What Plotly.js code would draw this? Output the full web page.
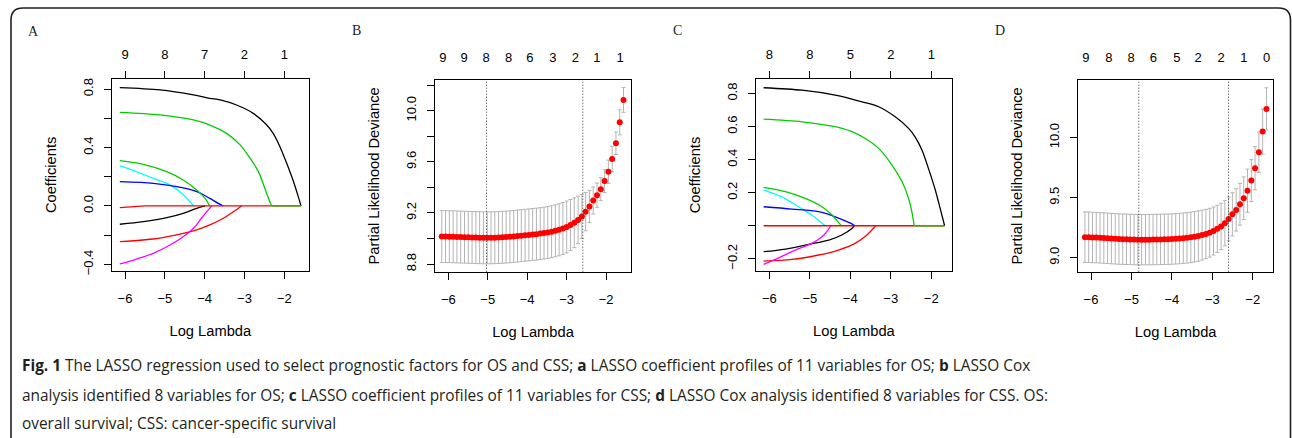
<!DOCTYPE html>
<html><head><meta charset="utf-8">
<script src="https://cdn.plot.ly/plotly-3.0.1.min.js"></script>
<style>html,body{margin:0;padding:0;background:#fff;}#chart{width:1292px;height:438px;}</style>
</head><body><div id="chart"></div>
<script>
// ---------------- DATA ----------------
// Panel A: LASSO coefficient profiles (OS)
const A_black1_x = [-6.13,-5.12,-4.28,-3.87,-3.61,-3.20,-2.78,-2.44,-2.28,-2.11,-1.94,-1.77,-1.65,-1.58];
const A_black1_y = [0.810,0.794,0.760,0.737,0.726,0.691,0.634,0.554,0.497,0.406,0.292,0.167,0.064,0];
const A_green1_x = [-6.13,-5.12,-4.28,-3.87,-3.45,-3.11,-2.86,-2.65,-2.49,-2.38,-2.32];
const A_green1_y = [0.641,0.623,0.589,0.554,0.497,0.418,0.326,0.235,0.121,0.041,0];
const A_green1_tail_x = [-2.32,-1.58];
const A_green1_tail_y = [0,0];
const A_green2_x = [-6.13,-5.54,-4.95,-4.54,-4.20,-3.99,-3.87];
const A_green2_y = [0.310,0.285,0.235,0.178,0.110,0.052,0];
const A_cyan_x = [-6.13,-5.71,-5.29,-4.87,-4.58,-4.37,-4.28];
const A_cyan_y = [0.274,0.235,0.189,0.144,0.087,0.030,0];
const A_blue_x = [-6.13,-5.29,-4.70,-4.20,-3.87,-3.66,-3.53];
const A_blue_y = [0.167,0.155,0.132,0.098,0.052,0.018,0];
const A_red0_x = [-6.13,-5.80,-5.50,-1.58];
const A_red0_y = [-0.011,-0.004,0,0];
const A_black2_x = [-6.13,-5.54,-4.95,-4.54,-4.20,-3.99];
const A_black2_y = [-0.125,-0.107,-0.080,-0.050,-0.016,0];
const A_red2_x = [-6.13,-5.29,-4.70,-4.28,-3.87,-3.53,-3.28,-3.07];
const A_red2_y = [-0.244,-0.226,-0.198,-0.171,-0.130,-0.084,-0.039,0];
const A_magenta_x = [-6.13,-5.71,-5.29,-4.87,-4.54,-4.28,-4.08,-3.91,-3.82];
const A_magenta_y = [-0.397,-0.363,-0.324,-0.267,-0.210,-0.153,-0.084,-0.027,0];
const A_top_at = [-6,-5,-4,-3,-2];
const A_top_labels = ['9','8','7','2','1'];

// Panel C: LASSO coefficient profiles (CSS)
const C_black1_x = [-6.14,-5.19,-4.37,-3.71,-3.30,-2.89,-2.56,-2.40,-2.23,-2.07,-1.90,-1.78,-1.67];
const C_black1_y = [0.835,0.820,0.790,0.750,0.720,0.659,0.589,0.538,0.458,0.347,0.216,0.105,0];
const C_green1_x = [-6.14,-5.19,-4.37,-3.96,-3.63,-3.30,-2.97,-2.72,-2.56,-2.48,-2.42];
const C_green1_y = [0.645,0.629,0.599,0.569,0.528,0.468,0.367,0.266,0.165,0.085,0];
const C_green1_tail_x = [-2.42,-1.67];
const C_green1_tail_y = [0,0];
const C_green2_x = [-6.14,-5.60,-5.11,-4.70,-4.45,-4.27,-4.22];
const C_green2_y = [0.232,0.206,0.165,0.115,0.065,0.014,0];
const C_cyan_x = [-6.14,-5.69,-5.28,-4.95,-4.74,-4.62];
const C_cyan_y = [0.216,0.175,0.115,0.065,0.024,0];
const C_blue_x = [-6.14,-5.44,-4.78,-4.37,-4.04,-3.88];
const C_blue_y = [0.115,0.101,0.085,0.054,0.020,0];
const C_red0_x = [-6.14,-1.67];
const C_red0_y = [0,0];
const C_black2_x = [-6.14,-5.60,-5.03,-4.53,-4.21,-3.96,-3.90];
const C_black2_y = [-0.157,-0.141,-0.113,-0.087,-0.056,-0.016,0];
const C_red2_x = [-6.14,-5.44,-4.78,-4.29,-3.88,-3.59,-3.37];
const C_red2_y = [-0.214,-0.204,-0.177,-0.147,-0.107,-0.056,0];
const C_magenta_x = [-6.14,-5.77,-5.36,-4.95,-4.70,-4.55,-4.48];
const C_magenta_y = [-0.234,-0.194,-0.147,-0.107,-0.067,-0.026,0];
const C_top_at = [-6,-5,-4,-3,-2];
const C_top_labels = ['8','8','5','2','1'];

// Panel B: cross-validated partial likelihood deviance (OS)
const B_logLambda = [-6.165,-6.069,-5.973,-5.877,-5.781,-5.685,-5.589,-5.493,-5.397,-5.301,-5.205,-5.109,-5.013,-4.917,-4.821,-4.725,-4.629,-4.533,-4.437,-4.341,-4.245,-4.149,-4.053,-3.957,-3.861,-3.765,-3.669,-3.573,-3.477,-3.381,-3.285,-3.189,-3.093,-2.997,-2.901,-2.805,-2.709,-2.613,-2.517,-2.421,-2.325,-2.229,-2.133,-2.037,-1.941,-1.845,-1.749,-1.653,-1.557];
const B_deviance = [9.015,9.015,9.014,9.013,9.012,9.011,9.010,9.009,9.008,9.007,9.006,9.005,9.005,9.005,9.006,9.007,9.009,9.011,9.013,9.016,9.019,9.022,9.025,9.028,9.031,9.034,9.038,9.042,9.047,9.053,9.060,9.068,9.078,9.090,9.105,9.123,9.145,9.172,9.210,9.250,9.297,9.339,9.386,9.449,9.522,9.621,9.745,9.909,10.084];
const B_sd = [0.203,0.203,0.203,0.203,0.203,0.203,0.203,0.203,0.203,0.203,0.203,0.203,0.203,0.203,0.203,0.203,0.203,0.203,0.203,0.203,0.203,0.203,0.203,0.203,0.203,0.203,0.203,0.203,0.203,0.203,0.203,0.203,0.203,0.203,0.200,0.195,0.186,0.172,0.150,0.126,0.105,0.095,0.090,0.090,0.091,0.100,0.088,0.098,0.097];
const B_refLines = [-5.03,-2.59];
const B_top_at = [-6.14,-5.60,-5.04,-4.47,-3.93,-3.35,-2.78,-2.23,-1.64];
const B_top_labels = ['9','9','8','8','6','3','2','1','1'];

// Panel D: cross-validated partial likelihood deviance (CSS)
const D_logLambda = [-6.150,-6.057,-5.963,-5.870,-5.776,-5.683,-5.589,-5.496,-5.402,-5.309,-5.215,-5.122,-5.028,-4.935,-4.841,-4.748,-4.654,-4.561,-4.467,-4.374,-4.280,-4.187,-4.093,-4.000,-3.906,-3.813,-3.719,-3.626,-3.532,-3.439,-3.345,-3.252,-3.158,-3.065,-2.971,-2.878,-2.784,-2.691,-2.597,-2.504,-2.410,-2.317,-2.223,-2.130,-2.036,-1.943,-1.849,-1.756,-1.662];
const D_deviance = [9.171,9.170,9.168,9.167,9.165,9.163,9.161,9.159,9.157,9.155,9.154,9.153,9.152,9.151,9.150,9.150,9.150,9.150,9.151,9.151,9.152,9.153,9.154,9.155,9.157,9.159,9.162,9.165,9.169,9.174,9.180,9.188,9.197,9.208,9.222,9.240,9.260,9.287,9.322,9.361,9.398,9.445,9.495,9.558,9.642,9.745,9.878,10.050,10.239];
const D_sd = [0.210,0.210,0.210,0.210,0.210,0.210,0.210,0.210,0.210,0.210,0.210,0.210,0.210,0.210,0.210,0.210,0.210,0.210,0.210,0.210,0.210,0.210,0.210,0.210,0.210,0.210,0.210,0.210,0.210,0.210,0.210,0.208,0.205,0.203,0.200,0.197,0.193,0.188,0.183,0.180,0.176,0.174,0.178,0.180,0.175,0.180,0.168,0.187,0.176];
const D_refLines = [-4.82,-2.60];
const D_top_at = [-6.13,-5.56,-5.01,-4.46,-3.88,-3.35,-2.78,-2.22,-1.66];
const D_top_labels = ['9','8','8','6','5','2','2','1','0'];

const panelLetters = ['A','B','C','D'];
const captionLines = [
  '<b>Fig. 1</b> The LASSO regression used to select prognostic factors for OS and CSS; <b>a</b> LASSO coefficient profiles of 11 variables for OS; <b>b</b> LASSO Cox',
  'analysis identified 8 variables for OS; <b>c</b> LASSO coefficient profiles of 11 variables for CSS; <b>d</b> LASSO Cox analysis identified 8 variables for CSS. OS:',
  'overall survival; CSS: cancer-specific survival'
];

// ---------------- LAYOUT HELPERS ----------------
const W = 1292, H = 438;
const px = v => v / W;
const py = v => 1 - v / H;
const TICKFONT = {family:'Liberation Sans, Arial, sans-serif', size:13, color:'#000'};
const TITLEFONT = {family:'Liberation Sans, Arial, sans-serif', size:14.7, color:'#000'};
const COL = {black:'#000000', red:'#FF0000', green:'#00CD00', blue:'#0000FF', cyan:'#00FFFF', magenta:'#FF00FF'};

function line(xs, ys, color, xa, ya, lin) {
  return {type:'scatter', mode:'lines', x:xs, y:ys, xaxis:xa, yaxis:ya, hoverinfo:'skip', showlegend:false,
          line: lin ? {color:color, width:1.3} : {color:color, width:1.3, shape:'spline', smoothing:0.9}};
}
function cv(xs, ys, sd, xa, ya) {
  return {type:'scatter', mode:'markers', x:xs, y:ys, xaxis:xa, yaxis:ya, hoverinfo:'skip', showlegend:false,
          marker:{color:'#FF0000', size:6, line:{width:0}},
          error_y:{type:'data', array:sd, visible:true, color:'#B4B4B4', thickness:1, width:2}};
}
// invisible carrier so that the top (number-of-variables) axis is drawn
function topCarrier(at, xa, ya, yv) {
  return {type:'scatter', mode:'markers', x:at, y:at.map(() => yv), xaxis:xa, yaxis:ya, hoverinfo:'skip', showlegend:false,
          marker:{opacity:0, size:1}};
}

// panel boxes in pixels: [left, right, top, bottom]
const boxes = [[111.7,309,79,270.7],[435,631,80,271.7],[756.3,951.5,79.3,270.7],[1078.3,1273,80,271.7]];
const xr = [[-6.334,-1.38],[-6.337,-1.367],[-6.321,-1.50],[-6.314,-1.50]];
const yr = [[-0.443,0.869],[8.74,10.24],[-0.272,0.886],[8.883,10.48]];

const traces = [
  line(A_black1_x, A_black1_y, COL.black, 'x', 'y'),
  line(A_cyan_x, A_cyan_y, COL.cyan, 'x', 'y'),
  line(A_blue_x, A_blue_y, COL.blue, 'x', 'y'),
  line(A_green2_x, A_green2_y, COL.green, 'x', 'y'),
  line(A_black2_x, A_black2_y, COL.black, 'x', 'y'),
  line(A_red2_x, A_red2_y, COL.red, 'x', 'y'),
  line(A_magenta_x, A_magenta_y, COL.magenta, 'x', 'y'),
  line(A_red0_x, A_red0_y, COL.red, 'x', 'y', true),
  line(A_green1_x, A_green1_y, COL.green, 'x', 'y'),
  line(A_green1_tail_x, A_green1_tail_y, COL.green, 'x', 'y', true),
  cv(B_logLambda, B_deviance, B_sd, 'x2', 'y2'),
  line(C_black1_x, C_black1_y, COL.black, 'x3', 'y3'),
  line(C_cyan_x, C_cyan_y, COL.cyan, 'x3', 'y3'),
  line(C_blue_x, C_blue_y, COL.blue, 'x3', 'y3'),
  line(C_green2_x, C_green2_y, COL.green, 'x3', 'y3'),
  line(C_black2_x, C_black2_y, COL.black, 'x3', 'y3'),
  line(C_red2_x, C_red2_y, COL.red, 'x3', 'y3'),
  line(C_magenta_x, C_magenta_y, COL.magenta, 'x3', 'y3'),
  line(C_red0_x, C_red0_y, COL.red, 'x3', 'y3', true),
  line(C_green1_x, C_green1_y, COL.green, 'x3', 'y3'),
  line(C_green1_tail_x, C_green1_tail_y, COL.green, 'x3', 'y3', true),
  cv(D_logLambda, D_deviance, D_sd, 'x4', 'y4'),
  topCarrier(A_top_at, 'x5', 'y', 0),
  topCarrier(B_top_at, 'x6', 'y2', 9.0),
  topCarrier(C_top_at, 'x7', 'y3', 0),
  topCarrier(D_top_at, 'x8', 'y4', 9.2)
];

function baseX(i) {
  const b = boxes[i];
  return {domain:[px(b[0]), px(b[1])], range:xr[i], anchor: i===0?'y':'y'+(i+1), showline:true, mirror:true, linecolor:'#000', linewidth:1,
          ticks:'outside', ticklen:7, tickwidth:1, tickcolor:'#000', tickmode:'array', tickvals:[-6,-5,-4,-3,-2],
          ticktext:['\u22126','\u22125','\u22124','\u22123','\u22122'], tickfont:TICKFONT, ticklabelstandoff:9,
          showgrid:false, zeroline:false, fixedrange:true,
          title:{text:'Log Lambda', font:TITLEFONT, standoff:20}};
}
function baseY(i, vals, texts, title) {
  const b = boxes[i];
  return {domain:[py(b[3]), py(b[2])], range:yr[i], anchor: i===0?'x':'x'+(i+1), showline:true, mirror:true, linecolor:'#000', linewidth:1,
          ticks:'outside', ticklen:7, tickwidth:1, tickcolor:'#000', tickmode:'array', tickvals:vals, ticktext:texts,
          tickangle:-90, tickfont:TICKFONT, ticklabelstandoff:6, showgrid:false, zeroline:false, fixedrange:true,
          title:{text:title, font:TITLEFONT, standoff:20}};
}
function topX(i, at, labels, withTicks) {
  return {overlaying: i===0?'x':'x'+(i+1), anchor: i===0?'y':'y'+(i+1), side:'top', range:xr[i], showline:false,
          ticks: withTicks ? 'outside' : '', ticklen:7, tickwidth:1, tickcolor:'#000', tickmode:'array', tickvals:at, ticktext:labels,
          tickfont:TICKFONT, ticklabelstandoff: withTicks ? 7 : 14, showgrid:false, zeroline:false, fixedrange:true};
}

const layout = {
  width:W, height:H, margin:{l:0,r:0,t:0,b:0}, paper_bgcolor:'#fff', plot_bgcolor:'#fff', showlegend:false,
  xaxis: baseX(0), xaxis2: baseX(1), xaxis3: baseX(2), xaxis4: baseX(3),
  yaxis: baseY(0, [-0.4,-0.2,0,0.2,0.4,0.6,0.8], ['\u22120.4','','0.0','','0.4','','0.8'], 'Coefficients'),
  yaxis2: baseY(1, [8.8,9.0,9.2,9.4,9.6,9.8,10.0,10.2], ['8.8','','9.2','','9.6','','10.0',''], 'Partial Likelihood Deviance'),
  yaxis3: baseY(2, [-0.2,0,0.2,0.4,0.6,0.8], ['\u22120.2','','0.2','0.4','0.6','0.8'], 'Coefficients'),
  yaxis4: baseY(3, [9.0,9.5,10.0], ['9.0','9.5','10.0'], 'Partial Likelihood Deviance'),
  xaxis5: topX(0, A_top_at, A_top_labels, true),
  xaxis6: topX(1, B_top_at, B_top_labels, false),
  xaxis7: topX(2, C_top_at, C_top_labels, true),
  xaxis8: topX(3, D_top_at, D_top_labels, false),
  shapes: [],
  annotations: []
};

B_refLines.forEach(v => layout.shapes.push({type:'line', xref:'x2', yref:'y2 domain', x0:v, x1:v, y0:0, y1:1, line:{color:'#333', width:1, dash:'1px,2px'}}));
D_refLines.forEach(v => layout.shapes.push({type:'line', xref:'x4', yref:'y4 domain', x0:v, x1:v, y0:0, y1:1, line:{color:'#333', width:1, dash:'1px,2px'}}));

// rounded frame (open at the bottom)
const fr = {l:11, t:8, r:1290.5, b:450, rad:12};
layout.shapes.push({type:'path', xref:'paper', yref:'paper', layer:'above',
  path:`M ${px(fr.l)} ${py(fr.b)} L ${px(fr.l)} ${py(fr.t+fr.rad)} Q ${px(fr.l)} ${py(fr.t)} ${px(fr.l+fr.rad)} ${py(fr.t)} L ${px(fr.r-fr.rad)} ${py(fr.t)} Q ${px(fr.r)} ${py(fr.t)} ${px(fr.r)} ${py(fr.t+fr.rad)} L ${px(fr.r)} ${py(fr.b)}`,
  line:{color:'#231F20', width:1.6}});

// panel letters
const letterPos = [[33,31],[356,30],[678,30],[1000,30]];
panelLetters.forEach((L,i) => layout.annotations.push({text:L, xref:'paper', yref:'paper', x:px(letterPos[i][0]), y:py(letterPos[i][1]),
  xanchor:'center', yanchor:'middle', showarrow:false, font:{family:'Liberation Serif, Times New Roman, serif', size:14, color:'#231F20'}}));

// caption
const capY = [365, 395, 423];
captionLines.forEach((t,i) => layout.annotations.push({text:t, xref:'paper', yref:'paper', x:px(20), y:py(capY[i]),
  xanchor:'left', yanchor:'middle', align:'left', showarrow:false, font:{family:'Open Sans, sans-serif', size:15.4, color:'#231F20'}}));

Plotly.newPlot('chart', traces, layout, {staticPlot:true, displayModeBar:false});
</script></body></html>
